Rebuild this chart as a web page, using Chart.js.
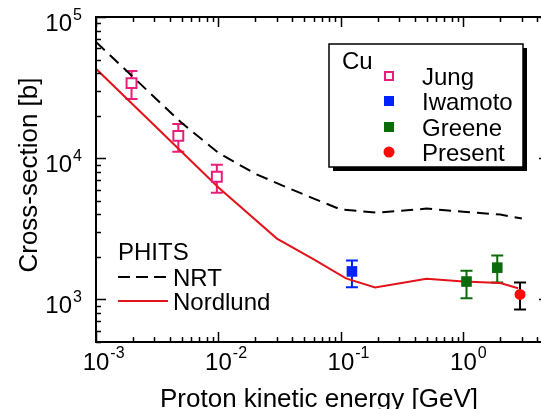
<!DOCTYPE html>
<html>
<head>
<meta charset="utf-8">
<title>Cu cross-section</title>
<script src="https://cdn.jsdelivr.net/npm/chart.js@4.4.0/dist/chart.umd.min.js"></script>
<style>
    html, body { margin: 0; padding: 0; background: #fff; overflow: hidden; }
    #wrap { width: 560px; height: 409px; }
</style>
</head>
<body>
<div id="wrap"><canvas id="xsChart" width="560" height="409"></canvas></div>
<script>
// proton energy in GeV, cross-section in barn
const jungE  = [0.00195, 0.0047, 0.0097];
const jungXs = [34000, 14400, 7400];
const jungLo = [26300, 11100, 5700];
const jungHi = [41500, 17500, 9000];

const iwamotoE  = [0.123];
const iwamotoXs = [1580];
const iwamotoLo = [1220];
const iwamotoHi = [1890];

const greeneE  = [1.06, 1.89];
const greeneXs = [1340, 1680];
const greeneLo = [1020, 1320];
const greeneHi = [1600, 2050];

const presentE  = [2.9];
const presentXs = [1085];
const presentLo = [850];
const presentHi = [1320];

// PHITS calculations
const nrtE  = [0.001, 0.002, 0.005, 0.01, 0.02, 0.04, 0.06, 0.1, 0.2, 0.5, 1, 2, 3];
const nrtXs = [66600, 37700, 17800, 10900, 7760, 5990, 5180, 4330, 4120, 4400, 4180, 3990, 3740];

const nordE  = [0.001, 0.01, 0.03, 0.06, 0.11, 0.19, 0.5, 1, 2, 2.8];
const nordXs = [43000, 6200, 2700, 1920, 1410, 1215, 1400, 1340, 1310, 1200];

const xDecades = [-3, -2, -1, 0];
const yDecades = [3, 4, 5];

const PINK = '#e91e7a';
const BLUE = '#0022ff';
const GREEN = '#0b6b0b';
const RED = '#ff0a0a';
const LINE_RED = '#e4131b';
const FONT = "'Liberation Sans', Arial, sans-serif";

function toPts(xs, ys) {
    return xs.map((x, i) => ({ x: x, y: ys[i] }));
}

// vertical error bars with caps, drawn under the markers
const errorBars = {
    id: 'errorBars',
    beforeDatasetsDraw(chart) {
        const ctx = chart.ctx;
        const xs = chart.scales.x, ys = chart.scales.y;
        chart.data.datasets.forEach(ds => {
            if (!ds.lo) return;
            ctx.save();
            ctx.strokeStyle = ds.barColor;
            ctx.lineWidth = 2;
            ds.data.forEach((p, i) => {
                const px = xs.getPixelForValue(p.x);
                const top = ys.getPixelForValue(ds.hi[i]);
                const bot = ys.getPixelForValue(ds.lo[i]);
                ctx.beginPath();
                ctx.moveTo(px, top); ctx.lineTo(px, bot);
                ctx.moveTo(px - 6, top); ctx.lineTo(px + 6, top);
                ctx.moveTo(px - 6, bot); ctx.lineTo(px + 6, bot);
                ctx.stroke();
            });
            ctx.restore();
        });
    }
};

// frame, inward ticks, 10^n labels, titles and the two legends
const frame = {
    id: 'frame',
    afterDraw(chart) {
        const ctx = chart.ctx;
        const a = chart.chartArea;
        const xs = chart.scales.x, ys = chart.scales.y;
        ctx.save();
        ctx.strokeStyle = '#000';
        ctx.fillStyle = '#000';
        ctx.lineWidth = 2;
        ctx.strokeRect(a.left, a.top, a.right - a.left, a.bottom - a.top);

        ctx.lineWidth = 1.5;
        ctx.beginPath();
        xDecades.forEach(d => {
            for (let m = 1; m <= 9; m++) {
                const v = m * Math.pow(10, d);
                if (v > xs.max) break;
                const px = Math.round(xs.getPixelForValue(v)) + 0.5;
                const len = m === 1 ? 10 : 5;
                ctx.moveTo(px, a.bottom); ctx.lineTo(px, a.bottom - len);
                ctx.moveTo(px, a.top); ctx.lineTo(px, a.top + len);
            }
        });
        [2].concat(yDecades).forEach(d => {
            for (let m = 1; m <= 9; m++) {
                const v = m * Math.pow(10, d);
                if (v < ys.min || v > ys.max) continue;
                const py = Math.round(ys.getPixelForValue(v)) + 0.5;
                const len = m === 1 ? 10 : 5;
                ctx.moveTo(a.left, py); ctx.lineTo(a.left + len, py);
                ctx.moveTo(a.right, py); ctx.lineTo(a.right - len, py);
            }
        });
        ctx.stroke();

        // tick labels
        ctx.textBaseline = 'alphabetic';
        xDecades.forEach(d => {
            const px = xs.getPixelForValue(Math.pow(10, d));
            ctx.font = '24px ' + FONT;
            ctx.textAlign = 'center';
            ctx.fillText('10', px, a.bottom + 28);
            const w = ctx.measureText('10').width;
            ctx.font = '16px ' + FONT;
            ctx.textAlign = 'left';
            ctx.fillText(d === 0 ? '0' : '-' + (-d), px + w / 2 + 1, a.bottom + 16);
        });
        yDecades.forEach(d => {
            const py = ys.getPixelForValue(Math.pow(10, d));
            ctx.font = '24px ' + FONT;
            ctx.textAlign = 'right';
            ctx.fillText('10', a.left - 24, py + 14);
            ctx.font = '16px ' + FONT;
            ctx.textAlign = 'left';
            ctx.fillText(String(d), a.left - 23, py + 3);
        });

        // axis titles
        ctx.font = '26px ' + FONT;
        ctx.textAlign = 'center';
        ctx.fillText('Proton kinetic energy [GeV]', 319, 407);
        ctx.save();
        ctx.translate(37, 175);
        ctx.rotate(-Math.PI / 2);
        ctx.fillText('Cross-section [b]', 0, 0);
        ctx.restore();

        // data legend box with shadow
        const bx = 329, by = 44, bw = 194, bh = 123;
        ctx.fillStyle = '#000';
        ctx.fillRect(bx + 4, by + 4, bw, bh);
        ctx.fillStyle = '#fff';
        ctx.fillRect(bx, by, bw, bh);
        ctx.lineWidth = 1.5;
        ctx.strokeRect(bx, by, bw, bh);
        ctx.fillStyle = '#000';
        ctx.font = '24px ' + FONT;
        ctx.textAlign = 'left';
        ctx.fillText('Cu', 342, 69);
        const rows = [
            { name: 'Jung', y: 76, draw: (x, y) => { ctx.fillStyle = '#fff'; ctx.fillRect(x - 4, y - 4, 8, 8); ctx.strokeStyle = PINK; ctx.lineWidth = 2; ctx.strokeRect(x - 4, y - 4, 8, 8); } },
            { name: 'Iwamoto', y: 101, draw: (x, y) => { ctx.fillStyle = BLUE; ctx.fillRect(x - 5, y - 5, 10, 10); } },
            { name: 'Greene', y: 127, draw: (x, y) => { ctx.fillStyle = GREEN; ctx.fillRect(x - 5, y - 5, 10, 10); } },
            { name: 'Present', y: 152, draw: (x, y) => { ctx.fillStyle = RED; ctx.beginPath(); ctx.arc(x, y, 5.5, 0, Math.PI * 2); ctx.fill(); } }
        ];
        rows.forEach(r => {
            r.draw(389, r.y);
            ctx.fillStyle = '#000';
            ctx.fillText(r.name, 422, r.y + 9);
        });

        // PHITS legend
        ctx.fillText('PHITS', 118, 260);
        ctx.lineWidth = 2;
        ctx.strokeStyle = '#000';
        ctx.setLineDash([12, 6]);
        ctx.beginPath(); ctx.moveTo(118, 277); ctx.lineTo(168, 277); ctx.stroke();
        ctx.setLineDash([]);
        ctx.fillText('NRT', 173, 286);
        ctx.strokeStyle = LINE_RED;
        ctx.beginPath(); ctx.moveTo(118, 301); ctx.lineTo(168, 301); ctx.stroke();
        ctx.fillText('Nordlund', 173, 310);
        ctx.restore();
    }
};

const ctx = document.getElementById('xsChart').getContext('2d');
const xsChart = new Chart(ctx, {
    type: 'scatter',
    data: {
        datasets: [
            {
                label: 'Present', data: toPts(presentE, presentXs), lo: presentLo, hi: presentHi, barColor: '#000',
                pointStyle: 'circle', pointRadius: 5.5, backgroundColor: RED, borderColor: RED, borderWidth: 0
            },
            {
                label: 'Greene', data: toPts(greeneE, greeneXs), lo: greeneLo, hi: greeneHi, barColor: GREEN,
                pointStyle: 'rect', pointRadius: 7.5, backgroundColor: GREEN, borderColor: GREEN, borderWidth: 0
            },
            {
                label: 'Iwamoto', data: toPts(iwamotoE, iwamotoXs), lo: iwamotoLo, hi: iwamotoHi, barColor: BLUE,
                pointStyle: 'rect', pointRadius: 7.5, backgroundColor: BLUE, borderColor: BLUE, borderWidth: 0
            },
            {
                label: 'Jung', data: toPts(jungE, jungXs), lo: jungLo, hi: jungHi, barColor: PINK,
                pointStyle: 'rect', pointRadius: 7, backgroundColor: '#fff', borderColor: PINK, borderWidth: 2
            },
            {
                label: 'Nordlund', type: 'line', data: toPts(nordE, nordXs),
                borderColor: LINE_RED, borderWidth: 2, pointRadius: 0, fill: false, tension: 0
            },
            {
                label: 'NRT', type: 'line', data: toPts(nrtE, nrtXs),
                borderColor: '#000', borderWidth: 2, borderDash: [12, 7], pointRadius: 0, fill: false, tension: 0
            }
        ]
    },
    options: {
        responsive: false,
        animation: false,
        devicePixelRatio: 1,
        layout: { padding: { left: 96, right: 11, top: 17, bottom: 67 } },
        plugins: { legend: { display: false }, tooltip: { enabled: false } },
        scales: {
            x: { type: 'logarithmic', min: 0.001, max: 5, display: false },
            y: { type: 'logarithmic', min: 500, max: 100000, display: false }
        }
    },
    plugins: [errorBars, frame]
});
</script>
</body>
</html>
